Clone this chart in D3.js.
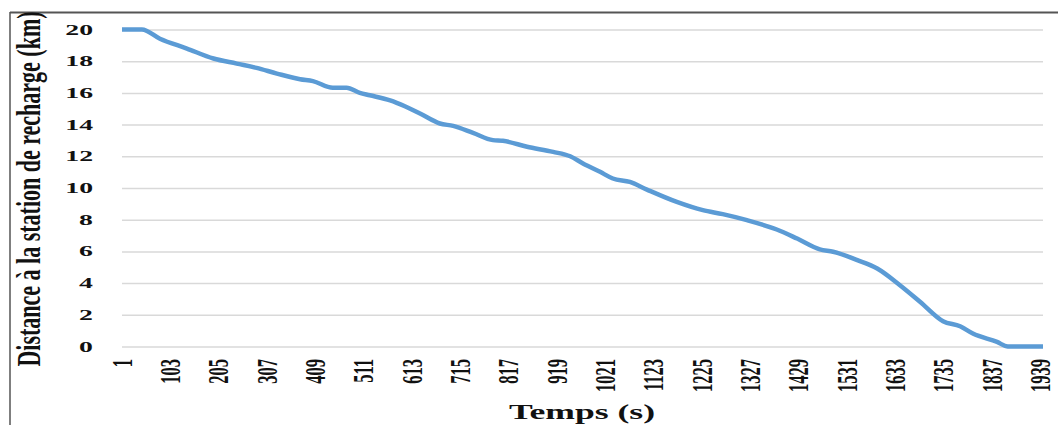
<!DOCTYPE html>
<html><head><meta charset="utf-8">
<script src="https://cdn.jsdelivr.net/npm/d3@7"></script>
<style>html,body{margin:0;padding:0;background:#fff;}svg{display:block;}</style>
</head><body>
<svg id="chart" width="1058" height="425"></svg>
<script>
const times = [1,43,81,138,194,243,285,328,377,404,446,475,503,524,567,598,630,672,700,742,784,805,856,911,947,974,1010,1037,1073,1109,1172,1227,1269,1320,1383,1426,1474,1502,1553,1595,1643,1686,1734,1770,1797,1848,1871,1945];
const distances = [20,20,19.42,18.8,18.17,17.85,17.58,17.22,16.86,16.74,16.32,16.32,16.0,15.85,15.53,15.16,14.7,14.07,13.92,13.48,13.02,12.98,12.6,12.28,12.0,11.55,11.02,10.6,10.38,9.9,9.12,8.6,8.35,7.97,7.38,6.81,6.13,5.98,5.45,4.92,3.87,2.81,1.6,1.28,0.82,0.29,0,0];
const xTickLabels = [1,103,205,307,409,511,613,715,817,919,1021,1123,1225,1327,1429,1531,1633,1735,1837,1939];
const yTickLabels = [0,2,4,6,8,10,12,14,16,18,20];
const xTitle = "Temps (s)";
const yTitle = "Distance à la station de recharge (km)";

const svg = d3.select("#chart");
const x = d3.scaleLinear().domain([1,1945]).range([122,1043]);
const y = d3.scaleLinear().domain([0,20]).range([346.5,29.5]);
const serif = "'Liberation Serif','Times New Roman',serif";

// frame
svg.append("line").attr("x1",10).attr("x2",1058).attr("y1",12.5).attr("y2",12.5)
  .attr("stroke","#555").attr("stroke-width",2);
svg.append("line").attr("x1",10).attr("x2",10).attr("y1",12).attr("y2",425)
  .attr("stroke","#555").attr("stroke-width",1.5);

// gridlines via axis
const yAxis = d3.axisLeft(y).tickValues(yTickLabels).tickSize(-(1043-122)).tickFormat("");
const gy = svg.append("g").attr("transform","translate(122,0)").call(yAxis);
gy.select(".domain").remove();
gy.selectAll(".tick line").attr("stroke","#d9d9d9").attr("stroke-width",1.5);

// y tick labels
svg.append("g").selectAll("text").data(yTickLabels).join("text")
  .attr("transform", d => `translate(93,${y(d)}) scale(1.85,1)`)
  .attr("text-anchor","end").attr("dominant-baseline","central")
  .attr("font-family",serif).attr("font-weight","bold").attr("font-size",15)
  .attr("fill","#111").text(d => d);

// x tick labels
svg.append("g").selectAll("text").data(xTickLabels).join("text")
  .attr("transform", d => `translate(${x(d)},359) scale(1.75,1) rotate(-90)`)
  .attr("text-anchor","end").attr("dominant-baseline","central")
  .attr("font-family",serif).attr("font-weight","bold").attr("font-size",16.5)
  .attr("fill","#111").text(d => d);

// line
const line = d3.line().x((d,i)=>x(times[i])).y(d=>y(d)).curve(d3.curveMonotoneX);
svg.append("path").datum(distances).attr("d",line)
  .attr("fill","none").attr("stroke","#5b9bd5").attr("stroke-width",4.5)
  .attr("stroke-linejoin","round").attr("stroke-linecap","butt");

// titles
svg.append("text").attr("transform","translate(582,419) scale(1.78,1)")
  .attr("text-anchor","middle").attr("font-family",serif).attr("font-weight","bold")
  .attr("font-size",20).attr("fill","#111").text(xTitle);
svg.append("text").attr("transform","translate(40,189) scale(1.55,1) rotate(-90)")
  .attr("text-anchor","middle").attr("font-family",serif).attr("font-weight","bold")
  .attr("font-size",22).attr("fill","#111").text(yTitle);
</script>
</body></html>
